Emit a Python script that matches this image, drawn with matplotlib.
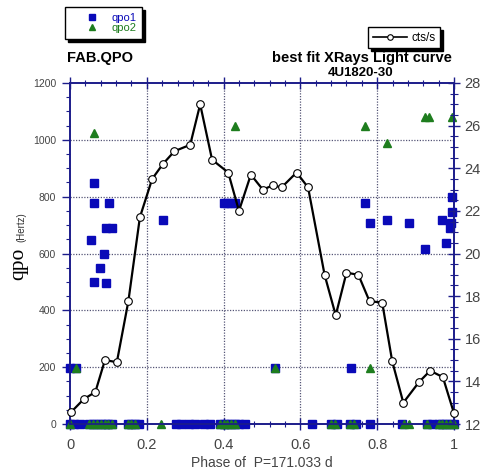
import matplotlib
matplotlib.use("Agg")
import matplotlib.pyplot as plt
from matplotlib.lines import Line2D
from matplotlib.ticker import MultipleLocator

# Light curve (cts/s) versus orbital phase
lc_phase = [0.003, 0.036, 0.066, 0.091, 0.122, 0.152, 0.182, 0.214, 0.242, 0.272,
            0.313, 0.339, 0.370, 0.412, 0.440, 0.471, 0.502, 0.529, 0.551, 0.590,
            0.620, 0.663, 0.692, 0.720, 0.751, 0.780, 0.813, 0.839, 0.868, 0.909,
            0.938, 0.971, 1.000]
lc_cts = [12.56, 13.17, 13.5, 15.0, 14.9, 17.76, 21.7, 23.5, 24.2, 24.8,
          25.1, 27.0, 24.4, 23.8, 22.0, 23.7, 23.0, 23.2, 23.1, 23.8,
          23.1, 19.0, 17.1, 19.1, 19.0, 17.76, 17.7, 14.95, 13.0, 13.97,
          14.5, 14.2, 12.5]

# QPO frequencies (Hz)
qpo1_phase = [0.0, 0.016, 0.054, 0.062, 0.062, 0.062, 0.078, 0.088, 0.094, 0.093,
              0.101, 0.109, 0.241, 0.40, 0.41, 0.42, 0.43, 0.534, 0.733, 0.767,
              0.78, 0.826, 0.883, 0.925, 0.969, 0.979, 0.99, 0.992, 0.995, 0.995,
              0.0, 0.01, 0.025, 0.05, 0.06, 0.07, 0.08, 0.09, 0.10, 0.11,
              0.15, 0.16, 0.17, 0.18, 0.275, 0.29, 0.31, 0.325, 0.35, 0.365,
              0.39, 0.40, 0.41, 0.42, 0.43, 0.44, 0.455, 0.63, 0.68, 0.695,
              0.73, 0.745, 0.78, 0.865, 0.93, 0.943, 0.96, 0.97, 0.98, 0.99, 1.0]
qpo1_hz = [197, 197, 647, 848, 778, 500, 549, 598, 496, 690,
           778, 690, 718, 778, 778, 778, 778, 197, 197, 778,
           707, 718, 707, 616, 718, 637, 689, 707, 746, 799,
           0, 0, 0, 0, 0, 0, 0, 0, 0, 0,
           0, 0, 0, 0, 0, 0, 0, 0, 0, 0,
           0, 0, 0, 0, 0, 0, 0, 0, 0, 0,
           0, 0, 0, 0, 0, 0, 0, 0, 0, 0, 0]

qpo2_phase = [0.062, 0.43, 0.767, 0.826, 0.925, 0.935, 0.995, 0.016, 0.534, 0.78,
              0.0, 0.05, 0.06, 0.07, 0.08, 0.09, 0.10, 0.11, 0.15, 0.16,
              0.17, 0.236, 0.39, 0.40, 0.41, 0.42, 0.43, 0.68, 0.69, 0.73,
              0.74, 0.87, 0.883, 0.93, 0.96, 0.97, 0.98, 0.99, 1.0]
qpo2_hz = [1024, 1048, 1048, 989, 1080, 1080, 1080, 197, 197, 197,
           0, 0, 0, 0, 0, 0, 0, 0, 0, 0,
           0, 0, 0, 0, 0, 0, 0, 0, 0, 0,
           0, 0, 0, 0, 0, 0, 0, 0, 0]

NAVY = "#1c1c8a"
BLUE = "#0a0ab8"
GREEN = "#1e7d1e"
TXT = "#444444"

plt.rcParams["font.family"] = ["Liberation Sans", "DejaVu Sans"]

fig = plt.figure(figsize=(4.86, 4.70), dpi=100)
ax = fig.add_axes([70 / 486, 1 - 424 / 470, 384 / 486, 341 / 470])
ax2 = ax.twinx()

ax.set_xlim(0, 1)
ax.set_ylim(0, 1200)
ax2.set_ylim(12, 28)

for a in (ax, ax2):
    for s in a.spines.values():
        s.set_color(NAVY)
        s.set_linewidth(1.2)

ax.set_xticks([0, 0.2, 0.4, 0.6, 0.8, 1.0])
ax.set_xticklabels(["0", "0.2", "0.4", "0.6", "0.8", "1"])
ax.xaxis.set_minor_locator(MultipleLocator(0.04))
ax.yaxis.set_major_locator(MultipleLocator(200))
ax.yaxis.set_minor_locator(MultipleLocator(50))
ax2.yaxis.set_major_locator(MultipleLocator(2))
ax2.yaxis.set_minor_locator(MultipleLocator(0.5))

ax.tick_params(axis="x", which="both", direction="inout", colors=NAVY,
               labelcolor=TXT, labelsize=10.5, top=True, pad=6)
ax.tick_params(axis="x", which="major", length=8, width=1)
ax.tick_params(axis="x", which="minor", length=5, width=0.8)
ax.tick_params(axis="y", which="both", direction="out", colors=NAVY,
               labelcolor=TXT, labelsize=7.5, pad=4)
ax.tick_params(axis="y", which="major", length=6, width=1)
ax.tick_params(axis="y", which="minor", length=3, width=0.8)
ax2.tick_params(axis="y", which="both", direction="inout", colors=NAVY,
                labelcolor=TXT, labelsize=10.5, pad=3)
ax2.tick_params(axis="y", which="major", length=9, width=1)
ax2.tick_params(axis="y", which="minor", length=6, width=0.8)

for gx in [0.2, 0.4, 0.6, 0.8]:
    ax.axvline(gx, color="#555577", lw=0.9, ls=(0, (1, 1.2)), zorder=0)
for gy in [200, 400, 600, 800, 1000]:
    ax.axhline(gy, color="#555577", lw=0.9, ls=(0, (1, 1.2)), zorder=0)

ax.plot(qpo1_phase, qpo1_hz, ls="none", marker="s", ms=5.2, color=BLUE,
        mec=BLUE, clip_on=False, zorder=3)
ax.plot(qpo2_phase, qpo2_hz, ls="none", marker="^", ms=5.2, color=GREEN,
        mec=GREEN, clip_on=False, zorder=4)

ax2.plot(lc_phase, lc_cts, color="black", lw=1.6, marker="o", ms=5.5,
         mfc="white", mec="black", mew=0.8, clip_on=False, zorder=5)

ax.set_xlabel("Phase of  P=171.033 d", fontsize=10, color=TXT, labelpad=3)

fig.text(19 / 486, 1 - 264 / 470, "qpo", rotation=90, fontsize=15.5,
         family="Liberation Serif", color="black", ha="center", va="center")
fig.text(21 / 486, 1 - 227 / 470, "(Hertz)", rotation=90, fontsize=7,
         color="#333333", ha="center", va="center")

fig.text(67 / 486, 1 - 62 / 470, "FAB.QPO", fontsize=10.5, fontweight="bold",
         ha="left", va="baseline", zorder=10)
fig.text(452 / 486, 1 - 62 / 470, "best fit XRays Light curve", fontsize=10.5,
         fontweight="bold", ha="right", va="baseline", zorder=10)
fig.text(361 / 486, 1 - 76.5 / 470, "4U1820-30", fontsize=9.5,
         fontweight="bold", ha="center", va="baseline", zorder=10)

h1 = Line2D([], [], ls="none", marker="s", ms=5, color=BLUE)
h2 = Line2D([], [], ls="none", marker="^", ms=5, color=GREEN)
leg1 = fig.legend([h1, h2], ["qpo1", "qpo2"], loc="upper left",
                  bbox_to_anchor=(65 / 486, 1 - 7 / 470), fontsize=8,
                  frameon=True, fancybox=False, edgecolor="black",
                  shadow={"color": "black", "alpha": 1.0},
                  handlelength=3.8, handletextpad=-0.2, labelspacing=0.02,
                  borderpad=0.55, borderaxespad=0)
leg1.get_frame().set_linewidth(1.0)
leg1.get_texts()[0].set_color(BLUE)
leg1.get_texts()[1].set_color(GREEN)

h3 = Line2D([], [], color="black", lw=1.2, marker="o", ms=4,
            mfc="white", mec="black", mew=0.8)
leg2 = fig.legend([h3], ["cts/s"], loc="upper left",
                  bbox_to_anchor=(368 / 486, 1 - 27 / 470), fontsize=8.5,
                  frameon=True, fancybox=False, edgecolor="black",
                  shadow={"color": "black", "alpha": 1.0},
                  handlelength=2.9, handletextpad=0.35,
                  borderpad=0.4, borderaxespad=0)
leg2.get_frame().set_linewidth(1.0)

fig.savefig("out.png", dpi=100, facecolor="white")
